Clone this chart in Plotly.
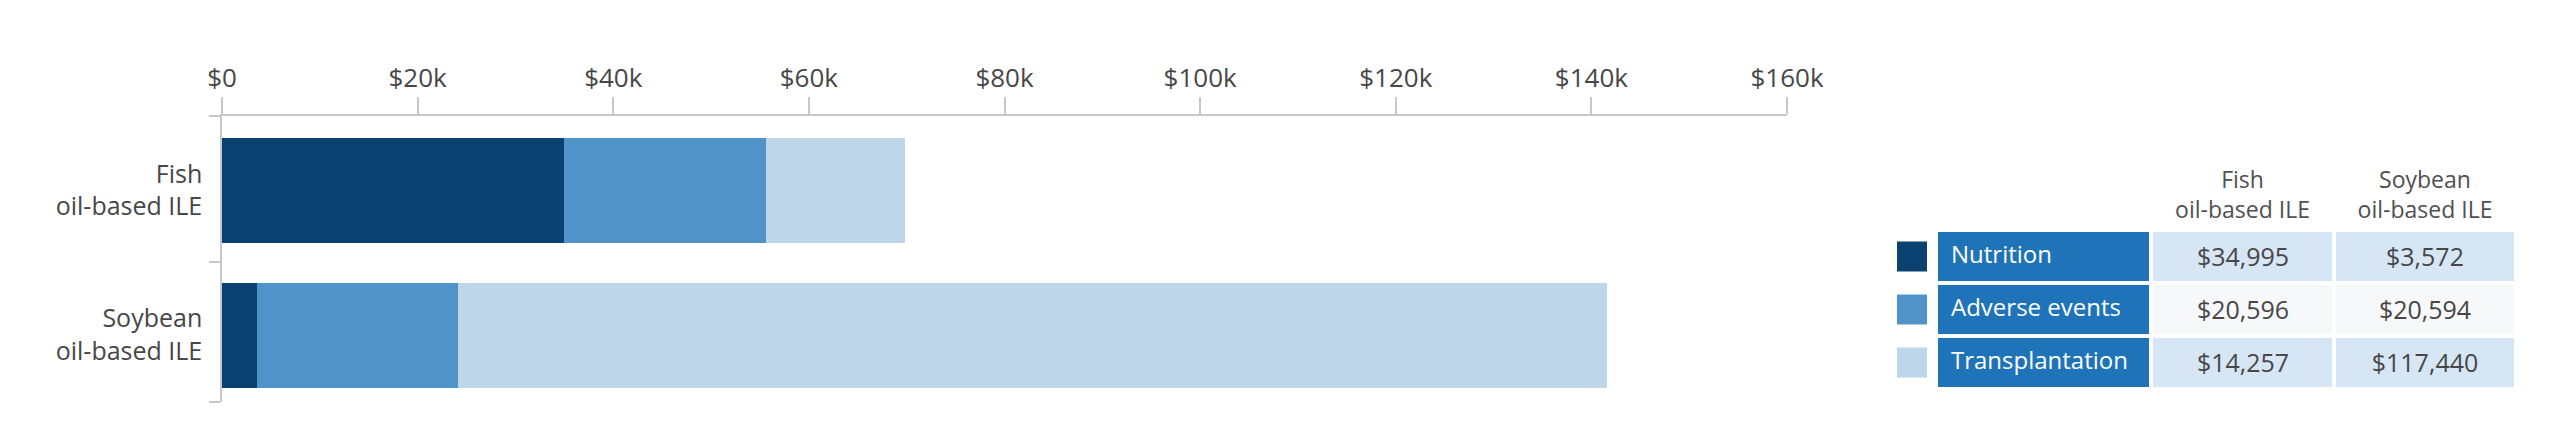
import plotly.graph_objects as go

# data
categories = ["Fish<br>oil-based ILE", "Soybean<br>oil-based ILE"]
series_names = ["Nutrition", "Adverse events", "Transplantation"]
nutrition = [34995, 3572]
adverse_events = [20596, 20594]
transplantation = [14257, 117440]
tick_values = [0, 20000, 40000, 60000, 80000, 100000, 120000, 140000, 160000]
tick_labels = ["$0", "$20k", "$40k", "$60k", "$80k", "$100k", "$120k", "$140k", "$160k"]

W, H = 2560, 428
FONT = "Open Sans"
TEXT = "#474747"
AXIS = "#c8c8c8"
COLORS = ["#0b4170", "#4f93c9", "#bed6ea"]
LABEL_FILL = "#1f73b8"
VALUE_FILLS = ["#d6e6f4", "#f7f8fa", "#d6e6f4"]

# table grid, in pixels of the page (the table axes are 1:1 with pixels)
COL_EDGES = [1936, 2151, 2334, 2516]
ROW_EDGES = [230, 283, 336, 389]
HEADER_Y = 197.5
SWATCH_X = 1912


def px_x(a, b):
    return [a / W, b / W]


def px_y(top, bottom):
    return [1 - bottom / H, 1 - top / H]


series = [nutrition, adverse_events, transplantation]
rows = list(range(len(categories)))

fig = go.Figure()

# ‚îÄ‚îÄ stacked bars
for name, vals, col in zip(series_names, series, COLORS):
    fig.add_trace(go.Bar(
        y=rows, x=vals, name=name, orientation="h",
        marker=dict(color=col, line=dict(width=0)),
        width=0.726, showlegend=False,
    ))

# ‚îÄ‚îÄ value table (cells as a heatmap with white gaps)
row_mid = [(a + b) / 2 for a, b in zip(ROW_EDGES[:-1], ROW_EDGES[1:])]
col_mid = [(a + b) / 2 for a, b in zip(COL_EDGES[:-1], COL_EDGES[1:])]
fill_idx = [[0, 1, 1], [0, 2, 2], [0, 1, 1]]
cell_text = [["", f"${v[0]:,}", f"${v[1]:,}"] for v in series]

fig.add_trace(go.Heatmap(
    x=COL_EDGES, y=ROW_EDGES, z=fill_idx, zmin=0, zmax=2,
    colorscale=[[0, LABEL_FILL], [0.5, VALUE_FILLS[0]], [1, VALUE_FILLS[1]]],
    showscale=False, xgap=4, ygap=4,
    text=cell_text, texttemplate="%{text}",
    textfont=dict(family=FONT, size=25, color=TEXT),
    hoverinfo="skip", xaxis="x2", yaxis="y2",
))

# row labels, white on blue
fig.add_trace(go.Scatter(
    x=[COL_EDGES[0] + 15] * len(series_names), y=row_mid,
    mode="text", text=series_names, textposition="middle right",
    textfont=dict(family=FONT, size=24, color="white"),
    xaxis="x2", yaxis="y2", showlegend=False, hoverinfo="skip",
))

# column headers
fig.add_trace(go.Scatter(
    x=col_mid[1:], y=[HEADER_Y] * 2,
    mode="text", text=categories, textposition="middle center",
    textfont=dict(family=FONT, size=23, color="#505050"),
    xaxis="x2", yaxis="y2", showlegend=False, hoverinfo="skip",
))

# legend swatches
fig.add_trace(go.Scatter(
    x=[SWATCH_X] * len(series_names), y=row_mid,
    mode="markers", xaxis="x2", yaxis="y2", showlegend=False, hoverinfo="skip",
    marker=dict(symbol="square", size=30, color=COLORS, line=dict(width=0)),
))

fig.update_layout(
    template="none",
    width=W, height=H, autosize=False,
    margin=dict(l=0, r=0, t=0, b=0, pad=0, autoexpand=False),
    paper_bgcolor="white", plot_bgcolor="white",
    barmode="stack", bargap=0,
    font=dict(family=FONT, color=TEXT),
    xaxis=dict(
        domain=px_x(222, 1787), range=[0, 160000], side="top", automargin=False,
        tickmode="array", tickvals=tick_values, ticktext=tick_labels,
        ticks="outside", ticklen=17, tickcolor=AXIS, tickwidth=1.5,
        showline=True, linecolor=AXIS, linewidth=1.5,
        showgrid=False, zeroline=False,
        tickfont=dict(family=FONT, size=26, color=TEXT),
    ),
    yaxis=dict(
        domain=px_y(115.7, 402), range=[1.465, -0.515], automargin=False,
        tickmode="array", tickvals=rows, ticktext=categories,
        ticks="outside", ticklen=13, tickcolor="rgba(0,0,0,0)",
        showline=True, linecolor=AXIS, linewidth=1.5,
        showgrid=False, zeroline=False,
        tickfont=dict(family=FONT, size=25, color=TEXT),
        minor=dict(tickmode="array", tickvals=[-0.515, 0.5, 1.465],
                   ticks="outside", ticklen=11, tickcolor=AXIS, tickwidth=1.5,
                   showgrid=False),
    ),
    xaxis2=dict(domain=px_x(1870, 2550), range=[1870, 2550], automargin=False,
                visible=False, fixedrange=True, anchor="y2"),
    yaxis2=dict(domain=px_y(150, 410), range=[410, 150], automargin=False,
                visible=False, fixedrange=True, anchor="x2"),
)

fig.write_html("out.html", config={"displayModeBar": False},
               post_script="document.body.style.margin='0';")
